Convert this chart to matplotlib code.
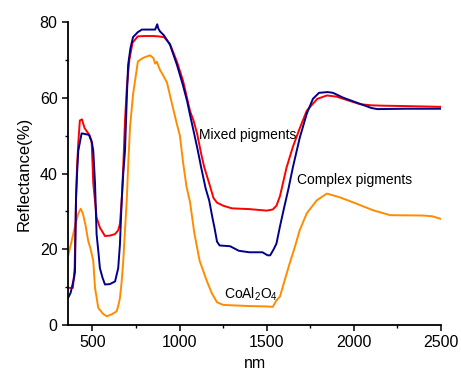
import matplotlib
matplotlib.use("Agg")
import matplotlib.pyplot as plt
from matplotlib.ticker import MultipleLocator

plt.rcParams['font.family'] = ['Liberation Sans', 'DejaVu Sans']

# Mixed pigments (red)
mixed_nm = [360, 388, 398, 406, 412, 419, 428, 440, 455, 470, 485, 496, 505, 515, 524, 543, 572, 600, 630, 648, 658, 668, 677, 687,
            698, 712, 730, 760, 800, 850, 880, 911, 945, 985, 1020, 1060, 1080, 1101, 1125, 1142, 1170, 1195, 1215, 1250, 1300,
            1400, 1500, 1535, 1556, 1576, 1614, 1650, 1690, 1730, 1790, 1845, 1900, 1940, 2035, 2100, 2170, 2300, 2500]
mixed_val = [9.8, 9.8, 15, 33, 42, 48, 54, 54.3, 52, 51, 50, 48, 37.4, 32.8, 28.4, 25.7, 23.5, 23.6, 24, 25, 26.7, 32.8, 41.7, 54,
             63, 70, 74.5, 76.2, 76.3, 76.3, 76.2, 76.0, 74.2, 69.5, 64.5, 56.5, 54, 50.5, 45, 41.6, 37.4, 33.5, 32.3, 31.5, 30.8,
             30.6, 30.2, 30.5, 31.5, 34, 41.6, 47, 52, 56.6, 59.7, 60.6, 60.3, 59.7, 58.3, 58, 57.9, 57.8, 57.6]

# Complex pigments (navy)
complex_nm = [360, 375, 385, 395, 400, 406, 412, 419, 438, 460, 480, 496, 505, 515, 524, 535, 543, 558, 572, 600, 630, 648, 658, 668, 677, 687,
              698, 705, 718, 733, 760, 784, 830, 860, 872, 878, 888, 910, 945, 985, 1019, 1044, 1060, 1084, 1105, 1124, 1150, 1170, 1190,
              1200, 1215, 1230, 1290, 1340, 1400, 1476, 1505, 1520, 1540, 1556, 1576, 1600, 1625, 1650, 1690, 1730, 1765, 1800, 1850,
              1880, 1940, 2035, 2100, 2135, 2300, 2500]
complex_val = [7.1, 8.5, 10.5, 12.5, 14, 33.7, 40, 46, 50.6, 50.4, 50.2, 48.5, 46, 37.4, 24, 19, 15, 12.5, 10.7, 10.8, 11.5, 15, 21.3, 32.8, 40, 46,
               60.8, 68.7, 73, 76, 77.3, 78, 78, 78, 79.4, 78.3, 77.5, 76.5, 74, 68.7, 63.4, 59, 55.5, 50.5, 46, 41.6, 36, 32.9, 28,
               25.8, 22, 21, 20.8, 19.6, 19.2, 19.2, 18.4, 18.4, 20, 21.5, 26, 31, 36, 41.6, 49.5, 55.8, 59.7, 61.3, 61.5,
               61.3, 60, 58.4, 57.3, 57, 57.1, 57.1]

# CoAl2O4 (orange)
coal_nm = [360, 375, 390, 405, 419, 433, 445, 460, 476, 490, 505, 515, 534, 560, 582, 610, 639, 648, 658, 668, 677, 687, 697, 706, 716,
           733, 761, 790, 830, 850, 860, 870, 887, 905, 928, 956, 985, 1002, 1020, 1040, 1060, 1085, 1115, 1155, 1185, 1215, 1250,
           1300, 1400, 1500, 1535, 1556, 1576, 1603, 1632, 1661, 1689, 1730, 1787, 1845, 1920, 2017, 2110, 2208, 2400, 2450, 2500]
coal_val = [18.2, 21, 24, 27, 29.4, 30.7, 29.5, 26.5, 22.2, 20, 16.9, 9.8, 4.5, 3, 2.3, 2.8, 3.6, 5, 7.1, 11.5, 16.9, 25, 32.8, 43, 52.3,
            60.8, 69.6, 70.5, 71.2, 70.5, 69, 69.5, 67.4, 66, 64, 58.5, 53, 50, 43, 36.5, 32.5, 24.2, 17, 11.8, 8.4, 6, 5.3,
            5.2, 5, 4.9, 4.8, 6.5, 7.5, 11.8, 16.3, 20.5, 25, 29.5, 32.9, 34.7, 33.7, 32, 30.3, 29, 28.9, 28.7, 28]

x_ticks = [500, 1000, 1500, 2000, 2500]
y_ticks = [0, 20, 40, 60, 80]

fig = plt.figure(figsize=(4.61, 3.73), dpi=100)
ax = fig.add_axes([68/461, 48/373, (441-68)/461, (325-22)/373])

ax.plot(coal_nm, coal_val, color='#ff8c00', lw=1.4)
ax.plot(mixed_nm, mixed_val, color='#ff0000', lw=1.4)
ax.plot(complex_nm, complex_val, color='#00008b', lw=1.4)

ax.set_xlim(360, 2500)
ax.set_ylim(0, 80)
ax.set_xticks(x_ticks)
ax.set_yticks(y_ticks)
ax.xaxis.set_minor_locator(MultipleLocator(250))
ax.yaxis.set_minor_locator(MultipleLocator(10))
ax.tick_params(which='major', direction='out', length=4.5, width=1.1, labelsize=11.5, pad=3)
ax.tick_params(which='minor', direction='out', length=2.5, width=1.0)
for s in ['top', 'right']:
    ax.spines[s].set_visible(False)
for s in ['left', 'bottom']:
    ax.spines[s].set_linewidth(1.3)

ax.set_xlabel('nm', fontsize=11.5, labelpad=4)
ax.set_ylabel('Reflectance(%)', fontsize=12, labelpad=6)

ax.text(1113, 50.1, 'Mixed pigments', fontsize=10, va='center', ha='left')
ax.text(1675, 38.3, 'Complex pigments', fontsize=10, va='center', ha='left')
ax.text(1254, 8.1, r'CoAl$_\mathregular{2}$O$_\mathregular{4}$', fontsize=10, va='center', ha='left')

fig.savefig('out.png', dpi=100)
